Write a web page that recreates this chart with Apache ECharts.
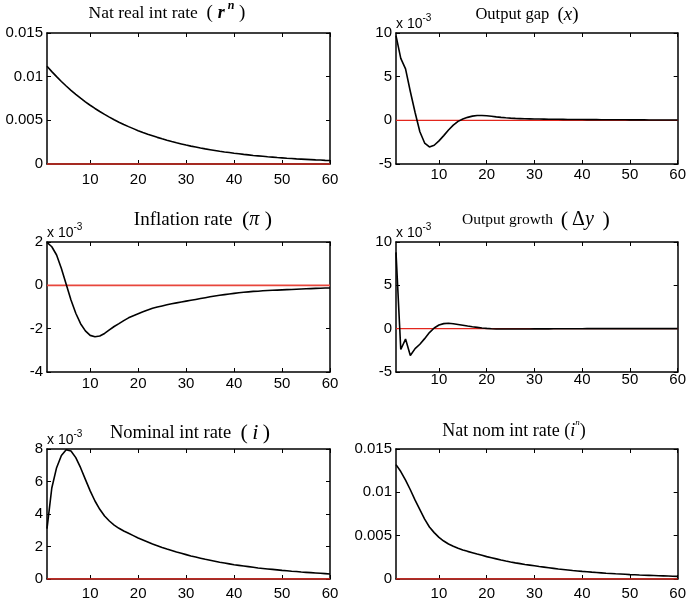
<!DOCTYPE html>
<html>
<head>
<meta charset="utf-8">
<script src="https://cdn.jsdelivr.net/npm/echarts@6/dist/echarts.min.js"></script>
<style>
  html, body { margin: 0; padding: 0; background: #fff; }
  #chart { width: 689px; height: 603px; }
</style>
</head>
<body>
<div id="chart"></div>
<script>
// horizon (periods)
const periods = [1,2,3,4,5,6,7,8,9,10,11,12,13,14,15,16,17,18,19,20,
  21,22,23,24,25,26,27,28,29,30,31,32,33,34,35,36,37,38,39,40,
  41,42,43,44,45,46,47,48,49,50,51,52,53,54,55,56,57,58,59,60];
const xTicks = [10, 20, 30, 40, 50, 60];
const zeroLevel = [0, 0];  // steady state reference line, from period 1 to 60
const zeroSpan = [1, 60];

// impulse responses
const natRealRate = [0.01120,0.01058,0.01000,0.00945,0.00893,0.00844,0.00798,0.00754,0.00712,0.00673,
  0.00636,0.00601,0.00568,0.00537,0.00507,0.00479,0.00453,0.00428,0.00405,0.00382,
  0.00361,0.00341,0.00323,0.00305,0.00288,0.00272,0.00257,0.00243,0.00230,0.00217,
  0.00205,0.00194,0.00183,0.00173,0.00164,0.00155,0.00146,0.00138,0.00131,0.00123,
  0.00117,0.00110,0.00104,0.00098,0.00093,0.00088,0.00083,0.00079,0.00074,0.00070,
  0.00066,0.00063,0.00059,0.00056,0.00053,0.00050,0.00047,0.00045,0.00042,0.00040];
// x 10^-3
const outputGap = [9.7,7.1,5.9,3.3,0.9,-1.3,-2.6,-3.05,-2.85,-2.35,
  -1.75,-1.1,-0.55,-0.12,0.15,0.34,0.48,0.55,0.56,0.53,
  0.47,0.40,0.34,0.29,0.25,0.22,0.20,0.18,0.17,0.16,
  0.15,0.14,0.13,0.12,0.12,0.11,0.10,0.10,0.09,0.09,
  0.08,0.08,0.08,0.07,0.07,0.07,0.06,0.06,0.06,0.05,
  0.05,0.05,0.05,0.04,0.04,0.04,0.04,0.04,0.03,0.03];
// x 10^-3
const inflation = [1.98,1.78,1.40,0.78,0.05,-0.68,-1.29,-1.77,-2.10,-2.31,
  -2.37,-2.34,-2.22,-2.06,-1.90,-1.77,-1.63,-1.50,-1.40,-1.31,
  -1.22,-1.14,-1.06,-1.00,-0.95,-0.90,-0.85,-0.81,-0.77,-0.73,
  -0.69,-0.65,-0.61,-0.57,-0.53,-0.49,-0.46,-0.43,-0.40,-0.37,
  -0.34,-0.32,-0.30,-0.28,-0.27,-0.25,-0.24,-0.23,-0.22,-0.21,
  -0.20,-0.19,-0.18,-0.17,-0.16,-0.15,-0.14,-0.135,-0.125,-0.12];
// x 10^-3
const outputGrowth = [8.8,-2.4,-1.2,-3.1,-2.3,-1.8,-1.15,-0.45,0.08,0.42,
  0.58,0.62,0.57,0.48,0.39,0.30,0.22,0.15,0.08,0.03,
  -0.01,-0.03,-0.04,-0.04,-0.04,-0.04,-0.03,-0.03,-0.03,-0.02,
  -0.02,-0.02,-0.02,-0.01,-0.01,-0.01,-0.01,-0.01,-0.01,-0.01,
  0,0,0,0,0,0,0,0,0,0,
  0,0,0,0,0,0,0,0,0,0];
// x 10^-3
const nominalRate = [3.1,5.6,6.85,7.6,7.96,7.88,7.47,6.85,6.13,5.42,
  4.80,4.29,3.88,3.57,3.32,3.12,2.95,2.81,2.67,2.52,
  2.40,2.28,2.16,2.05,1.94,1.84,1.75,1.66,1.58,1.50,
  1.42,1.35,1.28,1.21,1.15,1.09,1.03,0.98,0.93,0.88,
  0.84,0.80,0.76,0.72,0.68,0.65,0.62,0.59,0.56,0.53,
  0.51,0.48,0.46,0.43,0.41,0.39,0.37,0.35,0.33,0.31];
const natNomRate = [0.0132,0.0124,0.0114,0.0103,0.0091,0.0080,0.0069,0.0060,0.00535,0.0048,
  0.00438,0.00404,0.00377,0.00354,0.00335,0.00319,0.00304,0.00288,0.00273,0.00258,
  0.00245,0.00232,0.00219,0.00207,0.00196,0.00186,0.00177,0.00168,0.00160,0.00152,
  0.00144,0.00137,0.00130,0.00123,0.00116,0.00110,0.00104,0.00098,0.00093,0.00088,
  0.00084,0.00079,0.00075,0.00071,0.00067,0.00064,0.00060,0.00057,0.00054,0.00051,
  0.00049,0.00046,0.00044,0.00042,0.00040,0.00038,0.00036,0.00034,0.00032,0.00030];

const SANS = "'Liberation Sans', Arial, sans-serif";
const SERIF = "'Liberation Serif', 'Times New Roman', serif";

const panels = [
  { values: natRealRate, min: 0, max: 0.015, interval: 0.005, scaled: false, xMargin: 8,
    grid: { left: 47, top: 33, width: 283, height: 131 }, zero: '#a52a22', zeroW: 2 },
  { values: outputGap, min: -5, max: 10, interval: 5, scaled: true, xMargin: 3,
    grid: { left: 396, top: 33, width: 282, height: 131 }, zero: '#e3261d', zeroW: 1.4 },
  { values: inflation, min: -4, max: 2, interval: 2, scaled: true, xMargin: 4,
    grid: { left: 47, top: 242, width: 283, height: 130 }, zero: '#e8463c', zeroW: 1.6 },
  { values: outputGrowth, min: -5, max: 10, interval: 5, scaled: true, xMargin: 0,
    grid: { left: 396, top: 242, width: 282, height: 130 }, zero: '#e3261d', zeroW: 1.4 },
  { values: nominalRate, min: 0, max: 8, interval: 2, scaled: true, xMargin: 7,
    grid: { left: 47, top: 449, width: 283, height: 130 }, zero: '#e3261d', zeroW: 1.5 },
  { values: natNomRate, min: 0, max: 0.015, interval: 0.005, scaled: false, xMargin: 7,
    grid: { left: 396, top: 449, width: 282, height: 130 }, zero: '#e3261d', zeroW: 1.5 }
];

const axisLine = { show: true, onZero: false, lineStyle: { color: '#000', width: 1.5 } };
const tickStyle = { color: '#000', width: 1 };
const labelStyle = { color: '#000', fontSize: 15, fontFamily: SANS };

const grid = [], xAxis = [], yAxis = [], series = [];
panels.forEach((p, i) => {
  grid.push(Object.assign({ containLabel: false }, p.grid));
  // bottom + top (mirror) x axes
  ['bottom', 'top'].forEach((pos) => {
    xAxis.push({
      type: 'value', gridIndex: i, position: pos, min: 1, max: 60,
      axisLine: axisLine,
      axisTick: { show: true, inside: true, length: 4, customValues: xTicks, lineStyle: tickStyle },
      axisLabel: Object.assign({ show: pos === 'bottom', customValues: xTicks, margin: p.xMargin }, labelStyle),
      splitLine: { show: false }
    });
  });
  // left + right (mirror) y axes
  ['left', 'right'].forEach((pos) => {
    const ax = {
      type: 'value', gridIndex: i, position: pos,
      min: p.min, max: p.max, interval: p.interval,
      axisLine: axisLine,
      axisTick: { show: true, inside: true, length: 4, lineStyle: tickStyle },
      axisLabel: Object.assign({ show: pos === 'left', margin: 4 }, labelStyle),
      splitLine: { show: false }
    };
    if (pos === 'left' && p.scaled) {
      ax.name = '{b|x 10}{s|-3}';
      ax.nameLocation = 'end';
      ax.nameGap = -2;
      ax.nameTextStyle = {
        align: 'left',
        rich: {
          b: { fontSize: 14, fontFamily: SANS, color: '#000', lineHeight: 22 },
          s: { fontSize: 10, fontFamily: SANS, color: '#000', lineHeight: 10, verticalAlign: 'top' }
        }
      };
    }
    yAxis.push(ax);
  });
  // zero reference line (drawn under the response)
  series.push({
    type: 'line',
    xAxisIndex: 2 * i,
    yAxisIndex: 2 * i,
    data: zeroSpan.map((t, k) => [t, zeroLevel[k]]),
    symbol: 'none',
    silent: true,
    z: 3,
    lineStyle: { color: p.zero, width: p.zeroW }
  });
  series.push({
    type: 'line',
    xAxisIndex: 2 * i,
    yAxisIndex: 2 * i,
    data: periods.map((t, k) => [t, p.values[k]]),
    symbol: 'none',
    z: 4,
    lineStyle: { color: '#000', width: 1.6 }
  });
});

function title(x, y, text, size, rich) {
  return {
    type: 'text', x: x, y: y, silent: true,
    style: {
      text: text, align: 'center', verticalAlign: 'middle',
      fontFamily: SERIF, fontSize: size, fill: '#000',
      rich: rich
    }
  };
}
function base(size) {
  return { fontFamily: SERIF, fontSize: size, color: '#000', lineHeight: 26 };
}

const graphic = [
  title(167, 13, '{t|Nat real int rate  }{p|( }{m|r}{s| n}{p| )}', 17.5, {
    t: base(17.5), p: base(19),
    m: Object.assign(base(18), { fontStyle: 'italic', fontWeight: 'bold' }),
    s: { fontFamily: SERIF, fontSize: 12, fontStyle: 'italic', fontWeight: 'bold', color: '#000', lineHeight: 17, verticalAlign: 'top' }
  }),
  title(527, 15, '{t|Output gap  }{p|(}{i|x}{p|)}', 16.5, {
    t: base(16.5), p: base(19), i: Object.assign(base(19), { fontStyle: 'italic' })
  }),
  title(203, 220, '{t|Inflation rate  }{p|(}{i|π}{p| )}', 19, {
    t: base(19), p: base(22), i: Object.assign(base(20), { fontStyle: 'italic' })
  }),
  title(536, 220, '{t|Output growth  }{p|(}{d|\u2009Δ}{i|y}{p|\u2009\u2009)}', 15.5, {
    t: base(15.5), p: base(22), d: base(20), i: Object.assign(base(20), { fontStyle: 'italic' })
  }),
  title(190, 433, '{t|Nominal int rate  }{p|(}{i|\u2009i\u2009}{p|)}', 18.5, {
    t: base(18.5), p: base(22), i: Object.assign(base(22), { fontStyle: 'italic' })
  }),
  title(514, 431, '{t|Nat nom int rate (}{i|i}{s|n}{t|)}', 18, {
    t: base(18), i: Object.assign(base(18), { fontStyle: 'italic' }),
    s: { fontFamily: SERIF, fontSize: 9, fontStyle: 'italic', color: '#000', lineHeight: 16, verticalAlign: 'top' }
  })
];

const chart = echarts.init(document.getElementById('chart'));
chart.setOption({
  animation: false,
  backgroundColor: '#fff',
  grid: grid,
  xAxis: xAxis,
  yAxis: yAxis,
  series: series,
  graphic: graphic
});
</script>
</body>
</html>
